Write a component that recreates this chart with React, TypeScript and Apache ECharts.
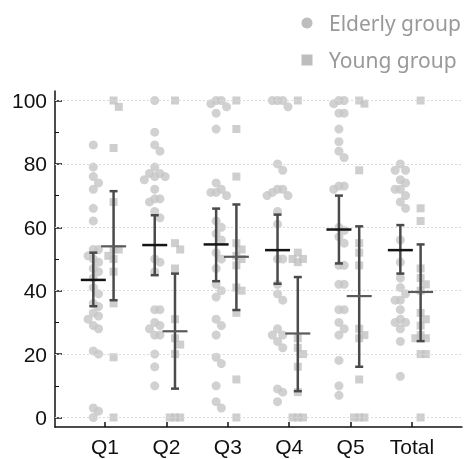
import { useEffect, useRef } from "react";
import * as echarts from "echarts";

const categories = ["Q1", "Q2", "Q3", "Q4", "Q5", "Total"];
const yTickLabels = [0, 20, 40, 60, 80, 100];
const yMinorTicks = [10, 30, 50, 70, 90];

// Individual scores (Elderly group)
const elderlyQ1 = [86, 79, 76, 74, 72, 66, 62, 53, 53, 51, 50, 49, 47, 46, 44, 41, 39, 36, 35, 33, 32, 31, 29, 28, 21, 20, 3, 2, 0];
const elderlyQ2 = [100, 90, 86, 84, 79, 77, 77, 76, 76, 75, 72, 69, 69, 68, 65, 63, 50, 49, 46, 34, 34, 30, 29, 28, 26, 26, 20, 16, 10];
const elderlyQ3 = [100, 100, 99, 98, 96, 91, 74, 72, 71, 71, 70, 62, 60, 58, 56, 52, 50, 47, 42, 40, 38, 31, 29, 26, 19, 17, 10, 5, 3];
const elderlyQ4 = [100, 100, 100, 98, 80, 78, 72, 72, 71, 70, 70, 65, 61, 50, 50, 42, 39, 37, 28, 26, 26, 24, 22, 9, 8, 5];
const elderlyQ5 = [100, 100, 99, 96, 96, 91, 87, 84, 82, 73, 73, 72, 60, 59, 57, 55, 48, 48, 42, 42, 34, 34, 30, 28, 26, 18, 10, 7];
const elderlyTotal = [80, 78, 78, 75, 74, 72, 72, 70, 68, 66, 56, 49, 44, 41, 39, 37, 37, 34, 31, 30, 30, 28, 24, 13];

// Individual scores (Young group)
const youngQ1 = [100, 98, 85, 68, 53, 53, 51, 50, 46, 36, 19, 0];
const youngQ2 = [100, 55, 53, 47, 31, 25, 23, 20, 0, 0, 0];
const youngQ3 = [100, 91, 76, 55, 53, 51, 50, 48, 41, 40, 33, 12, 0];
const youngQ4 = [100, 52, 50, 50, 49, 25, 22, 20, 16, 8, 0, 0, 0];
const youngQ5 = [100, 99, 78, 55, 52, 48, 28, 26, 25, 12, 0, 0, 0];
const youngTotal = [100, 66, 62, 47, 44, 42, 40, 33, 31, 29, 26, 25, 25, 20, 20, 0];

// Means and error bar limits
const elderlyMean = [43.4, 54.4, 54.6, 52.8, 59.3, 52.8];
const elderlyLow = [35.1, 44.9, 43.0, 42.2, 48.6, 45.4];
const elderlyHigh = [52.0, 63.8, 65.9, 64.0, 70.0, 60.7];
const youngMean = [54.0, 27.2, 50.7, 26.5, 38.3, 39.6];
const youngLow = [37.0, 9.1, 33.9, 8.3, 16.0, 24.1];
const youngHigh = [71.4, 45.4, 67.2, 44.3, 60.3, 54.6];

const elderlyGroups = [elderlyQ1, elderlyQ2, elderlyQ3, elderlyQ4, elderlyQ5, elderlyTotal];
const youngGroups = [youngQ1, youngQ2, youngQ3, youngQ4, youngQ5, youngTotal];

const ELDERLY_SHIFT = -0.19;
const YOUNG_SHIFT = 0.14;

function swarm(values: number[], center: number): number[][] {
  const laneW = 0.085;
  const minGap = 2.6;
  const placed: { lane: number; v: number }[] = [];
  const out: number[][] = [];
  const sorted = [...values].sort((a, b) => b - a);
  const lanes = [0, 1, -1, 2, -2, 3, -3];
  for (const v of sorted) {
    let lane = 0;
    for (const l of lanes) {
      if (!placed.some((p) => p.lane === l && Math.abs(p.v - v) < minGap)) {
        lane = l;
        break;
      }
    }
    placed.push({ lane, v });
    out.push([center + lane * laneW, v]);
  }
  return out;
}

function errorSeries(name: string, shift: number, mean: number[], low: number[], high: number[], meanColor: string, meanWidth: number) {
  return {
    type: "custom",
    name,
    z: 5,
    silent: true,
    data: categories.map((_, i) => [i + 1 + shift, mean[i], low[i], high[i]]),
    encode: { x: 0, y: [1, 2, 3] },
    renderItem: (_params: any, api: any) => {
      const x = api.value(0);
      const pm = api.coord([x, api.value(1)]);
      const pl = api.coord([x, api.value(2)]);
      const ph = api.coord([x, api.value(3)]);
      const cap = 4;
      const half = 12.5;
      const barStyle = { stroke: "#4a4a4a", lineWidth: 2.5 };
      return {
        type: "group",
        children: [
          { type: "line", shape: { x1: pl[0], y1: pl[1], x2: ph[0], y2: ph[1] }, style: barStyle },
          { type: "line", shape: { x1: pl[0] - cap, y1: pl[1], x2: pl[0] + cap, y2: pl[1] }, style: barStyle },
          { type: "line", shape: { x1: ph[0] - cap, y1: ph[1], x2: ph[0] + cap, y2: ph[1] }, style: barStyle },
          { type: "line", shape: { x1: pm[0] - half, y1: pm[1], x2: pm[0] + half, y2: pm[1] }, style: { stroke: meanColor, lineWidth: meanWidth } },
        ],
      };
    },
  };
}

export default function App() {
  const ref = useRef<HTMLDivElement>(null);
  useEffect(() => {
    if (!ref.current) return;
    const chart = echarts.init(ref.current, null, { renderer: "svg" });
    const elderlyData = elderlyGroups.flatMap((vals, i) => swarm(vals, i + 1 + ELDERLY_SHIFT));
    const youngData = youngGroups.flatMap((vals, i) => swarm(vals, i + 1 + YOUNG_SHIFT));
    const axisFont = { fontFamily: "Liberation Sans, Arial, sans-serif", fontSize: 21, color: "#111" };
    chart.setOption({
      animation: false,
      grid: { left: 55, right: 3, top: 91, bottom: 32, containLabel: false },
      xAxis: {
        type: "value",
        min: 0.186,
        max: 6.814,
        axisLine: { show: true, onZero: false, lineStyle: { color: "#111", width: 1.5 } },
        axisTick: { show: true, inside: true, length: 5, customValues: [1, 2, 3, 4, 5, 6], lineStyle: { color: "#111", width: 1.5 } },
        axisLabel: {
          ...axisFont,
          margin: 9,
          customValues: [1, 2, 3, 4, 5, 6],
          formatter: (v: number) => categories[Math.round(v) - 1] ?? "",
        },
        splitLine: { show: false },
      },
      yAxis: [
        {
          type: "value",
          min: -3,
          max: 103,
          position: "left",
          axisLine: { show: true, onZero: false, lineStyle: { color: "#111", width: 1.5 } },
          axisTick: { show: true, inside: true, length: 7, customValues: yTickLabels, lineStyle: { color: "#111", width: 1.5 } },
          axisLabel: { ...axisFont, margin: 8, customValues: yTickLabels },
          splitLine: { show: false },
        },
        {
          type: "value",
          min: -3,
          max: 103,
          position: "left",
          offset: 0,
          axisLine: { show: false },
          axisTick: { show: true, inside: true, length: 4, customValues: yMinorTicks, lineStyle: { color: "#111", width: 1 } },
          axisLabel: { show: false },
          splitLine: { show: false },
        },
      ],
      graphic: [
        { type: "circle", shape: { cx: 307, cy: 23, r: 5.5 }, style: { fill: "#bdbdbd" } },
        { type: "text", x: 329, y: 23, style: { text: "Elderly group", fontSize: 21, fontFamily: "Noto Sans", fill: "#999", verticalAlign: "middle" } },
        { type: "rect", shape: { x: 301.5, y: 54.5, width: 11, height: 11 }, style: { fill: "#bdbdbd" } },
        { type: "text", x: 329, y: 60, style: { text: "Young group", fontSize: 21, fontFamily: "Noto Sans", fill: "#999", verticalAlign: "middle" } },
      ],
      series: [
        {
          type: "scatter",
          name: "Elderly group",
          symbol: "circle",
          symbolSize: 9,
          itemStyle: { color: "#c6c6c6" },
          data: elderlyData,
          z: 2,
          markLine: {
            silent: true,
            symbol: "none",
            label: { show: false },
            lineStyle: { color: "#dadada", type: [2, 2], width: 1 },
            data: yTickLabels.map((v) => ({ yAxis: v })),
          },
        },
        {
          type: "scatter",
          name: "Young group",
          symbol: "rect",
          symbolSize: 8,
          itemStyle: { color: "#c2c2c2" },
          data: youngData,
          z: 2,
        },
        errorSeries("Elderly mean", ELDERLY_SHIFT, elderlyMean, elderlyLow, elderlyHigh, "#151515", 2.5),
        errorSeries("Young mean", YOUNG_SHIFT, youngMean, youngLow, youngHigh, "#5a5a5a", 2.2),
      ],
    });
    return () => chart.dispose();
  }, []);
  return <div ref={ref} style={{ position: "fixed", left: 0, top: 0, width: 465, height: 459 }} />;
}
